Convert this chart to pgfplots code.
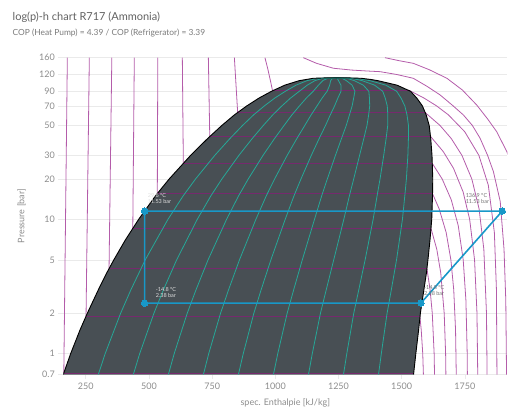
\documentclass[border=0pt]{standalone}
\usepackage{fontspec}
\setmainfont{Lato}
\usepackage{pgfplots}
\pgfplotsset{compat=1.18}
\definecolor{iso}{RGB}{180,92,170}
\definecolor{isoin}{RGB}{118,42,110}
\definecolor{qual}{RGB}{38,168,152}
\definecolor{dome}{RGB}{72,79,84}
\definecolor{cyc}{RGB}{24,152,200}
\definecolor{gridc}{RGB}{234,234,234}
\begin{document}
\begin{tikzpicture}[x=1pt,y=1pt]
\path[use as bounding box] (0,0) rectangle (508,410);
\node[anchor=base west, text=black!62, font=\fontsize{11}{13}\selectfont, inner sep=0] at (12.5,389.5) {log(p)-h chart R717 (Ammonia)};
\node[anchor=base west, text=black!52, font=\fontsize{8.4}{10}\selectfont, inner sep=0] at (12.5,374) {COP (Heat Pump) = 4.39 / COP (Refrigerator) = 3.39};
\begin{axis}[
  at={(63.3pt,35.5pt)}, anchor=south west, scale only axis,
  width=444pt, height=316.8pt,
  ymode=log, xmin=161, xmax=1918, ymin=0.7, ymax=160,
  axis line style={draw=none},
  ytick={0.7,1,2,5,10,20,30,50,70,90,120,160},
  yticklabels={0.7,1,2,5,10,20,30,50,70,90,120,160},
  xtick={250,500,750,1000,1250,1500,1750},
  yminorticks=false, xminorticks=false,
  ymajorgrids, grid style={gridc, line width=0.6pt},
  tick style={gridc, line width=0.6pt},
  tick align=outside, major tick length=5pt,
  xtick pos=bottom, ytick pos=left,
  ticklabel style={font=\fontsize{9}{10}\selectfont, text=black!45},
  /pgf/number format/assume math mode=true,
  /pgf/number format/1000 sep={},
  scaled x ticks=false,
  clip mode=individual,
]
% isotherms: liquid part
\addplot[iso, line width=0.8pt] coordinates {(177,160) (163,0.717)};
\addplot[iso, line width=0.8pt] coordinates {(264,160) (251,1.901)};
\addplot[iso, line width=0.8pt] coordinates {(353,160) (342,4.294)};
\addplot[iso, line width=0.8pt] coordinates {(442,160) (436,8.57)};
\addplot[iso, line width=0.8pt] coordinates {(535,160) (533,15.55)};
\addplot[iso, line width=0.8pt] coordinates {(632,160) (636,26.15)};
\addplot[iso, line width=0.8pt] coordinates {(735,160) (740.6,41.4)};
\addplot[iso, line width=0.8pt] coordinates {(838,160) (851,62.5)};
\addplot[iso, line width=0.8pt] coordinates {(959,160) (971,130) (982,105) (989,90.7)};
% isotherms: vapour part
\addplot[iso, line width=0.8pt] coordinates {(1572,1.901) (1577.4,1.5) (1583.4,1) (1586,0.7)};
\addplot[iso, line width=0.8pt] coordinates {(1600,4.294) (1612.4,3) (1621.1,2) (1628.5,1) (1630,0.7)};
\addplot[iso, line width=0.8pt] coordinates {(1616,8.57) (1638.9,6) (1654.6,4) (1668.3,2) (1673.9,1) (1675,0.7)};
\addplot[iso, line width=0.8pt] coordinates {(1622,15.55) (1648.2,12) (1676,8) (1694.7,5) (1706,3) (1713.2,1.5) (1716,0.7)};
\addplot[iso, line width=0.8pt] coordinates {(1621,26.15) (1660.3,20) (1696.2,14) (1723.8,9) (1743.5,5) (1754.2,2.5) (1759.3,1) (1760,0.7)};
\addplot[iso, line width=0.8pt] coordinates {(1614.5,41.4) (1664.5,32) (1705.2,24) (1743.2,16) (1769.1,10) (1788.4,5) (1798,2) (1801,0.7)};
\addplot[iso, line width=0.8pt] coordinates {(1593,62.5) (1652,50) (1696.3,40) (1738.4,30) (1777.6,20) (1806.3,12) (1825.1,6) (1835.6,2) (1838,0.7)};
\addplot[iso, line width=0.8pt] coordinates {(1533,90.7) (1588.8,80) (1638.3,70) (1685.1,60) (1749.5,45) (1805.5,30) (1842.8,18) (1866.8,8) (1875,3) (1877,0.7)};
\addplot[iso, line width=0.8pt] coordinates {(1111,160) (1163,145.3) (1230,133.5) (1300,129.5) (1362,127.4) (1415,125.9) (1480,120) (1546,112.4) (1600,98) (1652,84.5) (1700,71) (1744,60) (1780,50) (1810,40.3) (1840,30) (1863,22.7) (1890,13.6) (1905,6) (1912,2.5) (1915,0.7)};
\addplot[iso, line width=0.8pt] coordinates {(1434,160) (1490,152) (1546,145.3) (1610,130) (1679,112.4) (1740,92) (1797,71.1) (1840,56) (1876,45) (1916,32) (1945,22)};
% two-phase dome
\addplot[fill=dome, draw=none] coordinates {
 (161,0.7) (190,1) (227,1.5) (256,2) (300,3) (333,4) (361,5) (406,7) (459,10) (526,15) (580,20) (665,30) (732,40) (788,50) (838,60) (887,70) (935,80) (985,90) (1038,100) (1095,108) (1150,112.4) (1195,113.1) (1243,113.33)
 (1295,113.1) (1340,112.4) (1380,110) (1405,108) (1481,100) (1535,90) (1560,80) (1582,70) (1597,60) (1609,50) (1615,40) (1620,30) (1623,20) (1622,15) (1619,10) (1612,7) (1604,5) (1598,4) (1588,3) (1574,2) (1567,1.5) (1556,1) (1547,0.7)} -- cycle;
% isotherms inside dome
\addplot[isoin, line width=1pt] coordinates {(163,0.717) (1548,0.717)};
\addplot[isoin, line width=1pt] coordinates {(251,1.901) (1572,1.901)};
\addplot[isoin, line width=1pt] coordinates {(342,4.294) (1600,4.294)};
\addplot[isoin, line width=1pt] coordinates {(436,8.57) (1616,8.57)};
\addplot[isoin, line width=1pt] coordinates {(533,15.55) (1622,15.55)};
\addplot[isoin, line width=1pt] coordinates {(636,26.15) (1621,26.15)};
\addplot[isoin, line width=1pt] coordinates {(740.6,41.4) (1614.5,41.4)};
\addplot[isoin, line width=1pt] coordinates {(851,62.5) (1593,62.5)};
\addplot[isoin, line width=1pt] coordinates {(989,90.7) (1533,90.7)};
% quality lines x = 0.1 ... 0.9
\addplot[qual, line width=0.8pt] coordinates {(299.6,0.7) (326.6,1) (387.8,2) (428.8,3) (485.3,5) (575,10) (635.6,15) (684.3,20) (760.5,30) (820.3,40) (870.1,50) (913.9,60) (956.5,70) (997.5,80) (1040,90) (1082.3,100) (1126,108) (1169,112.4) (1243,113.33)};
\addplot[qual, line width=0.8pt] coordinates {(438.2,0.7) (463.2,1) (519.6,2) (557.6,3) (609.6,5) (691,10) (745.2,15) (788.6,20) (856,30) (908.6,40) (952.2,50) (989.8,60) (1026,70) (1060,80) (1095,90) (1126.6,100) (1157,108) (1188,112.4) (1243,113.33)};
\addplot[qual, line width=0.8pt] coordinates {(576.8,0.7) (599.8,1) (651.4,2) (686.4,3) (733.9,5) (807,10) (854.8,15) (892.9,20) (951.5,30) (996.9,40) (1034.3,50) (1065.7,60) (1095.5,70) (1122.5,80) (1150,90) (1170.9,100) (1188,108) (1207,112.4) (1243,113.33)};
\addplot[qual, line width=0.8pt] coordinates {(715.4,0.7) (736.4,1) (783.2,2) (815.2,3) (858.2,5) (923,10) (964.4,15) (997.2,20) (1047,30) (1085.2,40) (1116.4,50) (1141.6,60) (1165,70) (1185,80) (1205,90) (1215.2,100) (1219,108) (1226,112.4) (1243,113.33)};
\addplot[qual, line width=0.8pt] coordinates {(854,0.7) (873,1) (915,2) (944,3) (982.5,5) (1039,10) (1074,15) (1101.5,20) (1142.5,30) (1173.5,40) (1198.5,50) (1217.5,60) (1234.5,70) (1247.5,80) (1260,90) (1259.5,100) (1250,108) (1245,112.4) (1243,113.33)};
\addplot[qual, line width=0.8pt] coordinates {(992.6,0.7) (1009.6,1) (1046.8,2) (1072.8,3) (1106.8,5) (1155,10) (1183.6,15) (1205.8,20) (1238,30) (1261.8,40) (1280.6,50) (1293.4,60) (1304,70) (1310,80) (1315,90) (1303.8,100) (1281,108) (1264,112.4) (1243,113.33)};
\addplot[qual, line width=0.8pt] coordinates {(1131.2,0.7) (1146.2,1) (1178.6,2) (1201.6,3) (1231.1,5) (1271,10) (1293.2,15) (1310.1,20) (1333.5,30) (1350.1,40) (1362.7,50) (1369.3,60) (1373.5,70) (1372.5,80) (1370,90) (1348.1,100) (1312,108) (1283,112.4) (1243,113.33)};
\addplot[qual, line width=0.8pt] coordinates {(1269.8,0.7) (1282.8,1) (1310.4,2) (1330.4,3) (1355.4,5) (1387,10) (1402.8,15) (1414.4,20) (1429,30) (1438.4,40) (1444.8,50) (1445.2,60) (1443,70) (1435,80) (1425,90) (1392.4,100) (1343,108) (1302,112.4) (1243,113.33)};
\addplot[qual, line width=0.8pt] coordinates {(1408.4,0.7) (1419.4,1) (1442.2,2) (1459.2,3) (1479.7,5) (1503,10) (1512.4,15) (1518.7,20) (1524.5,30) (1526.7,40) (1526.9,50) (1521.1,60) (1512.5,70) (1497.5,80) (1480,90) (1436.7,100) (1374,108) (1321,112.4) (1243,113.33)};
% dome border
\addplot[black, line width=0.9pt] coordinates {
 (161,0.7) (190,1) (227,1.5) (256,2) (300,3) (333,4) (361,5) (406,7) (459,10) (526,15) (580,20) (665,30) (732,40) (788,50) (838,60) (887,70) (935,80) (985,90) (1038,100) (1095,108) (1150,112.4) (1195,113.1) (1243,113.33)
 (1295,113.1) (1340,112.4) (1380,110) (1405,108) (1481,100) (1535,90) (1560,80) (1582,70) (1597,60) (1609,50) (1615,40) (1620,30) (1623,20) (1622,15) (1619,10) (1612,7) (1604,5) (1598,4) (1588,3) (1574,2) (1567,1.5) (1556,1) (1547,0.7)};
% cycle
\addplot[cyc, line width=1.6pt, mark=*, mark size=3.2pt, mark options={fill=cyc, draw=cyc, line width=0pt}] coordinates {(1576,2.38) (1898,11.53) (483,11.53) (483,2.38) (1576,2.38)};
\node[anchor=south west, align=left, inner sep=0, text=black!12, font=\fontsize{5.5}{6.5}\selectfont] at (axis cs:483,11.53) [xshift=3pt, yshift=7pt] {29.6 °C\\11.53 bar};
\node[anchor=south west, align=left, inner sep=0, text=black!12, font=\fontsize{5.5}{6.5}\selectfont] at (axis cs:483,2.38) [xshift=11pt, yshift=5pt] {-14.8 °C\\2.38 bar};
\node[anchor=south west, align=left, inner sep=0, text=black!55, font=\fontsize{5.5}{6.5}\selectfont] at (axis cs:1576,2.38) [xshift=3pt, yshift=7pt] {-14.8 °C\\2.38 bar};
\node[anchor=south east, align=left, inner sep=0, text=black!55, font=\fontsize{5.5}{6.5}\selectfont] at (axis cs:1898,11.53) [xshift=-13pt, yshift=7pt] {136.9 °C\\11.53 bar};
\end{axis}
\node[rotate=90, text=black!45, font=\fontsize{9}{10}\selectfont] at (21.7,194) {Pressure [bar]};
\node[text=black!45, font=\fontsize{9}{10}\selectfont] at (285.3,7.3) {spec. Enthalpie [kJ/kg]};
\end{tikzpicture}
\end{document}
